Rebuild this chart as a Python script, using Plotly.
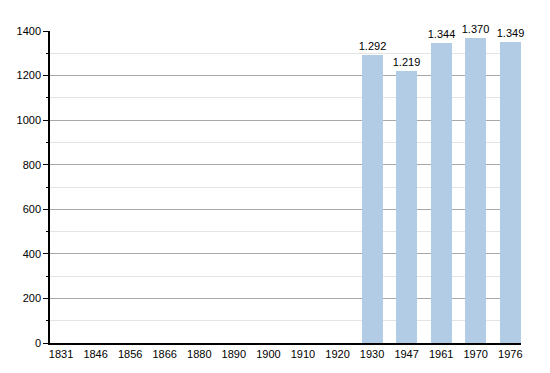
import plotly.graph_objects as go

years = ["1831", "1846", "1856", "1866", "1880", "1890", "1900", "1910", "1920",
         "1930", "1947", "1961", "1970", "1976"]
population = [None, None, None, None, None, None, None, None, None,
              1292, 1219, 1344, 1370, 1349]

labels = ["" if v is None else f"{v:,}".replace(",", ".") for v in population]

fig = go.Figure(go.Bar(
    x=list(range(len(years))),
    y=population,
    text=labels,
    textposition="outside",
    constraintext="none",
    textfont=dict(color="black", size=11),
    cliponaxis=False,
    marker=dict(color="#b3cce6", line=dict(width=0)),
    width=0.61,
))

fig.update_layout(
    width=550, height=373,
    margin=dict(l=50, r=29, t=31, b=30),
    paper_bgcolor="white", plot_bgcolor="white",
    font=dict(family="Liberation Sans, Arial, sans-serif", size=11, color="black"),
    showlegend=False,
    bargap=0,
    uniformtext=dict(minsize=11, mode="show"),
)
fig.update_xaxes(
    tickmode="array",
    tickvals=list(range(len(years))),
    ticktext=years,
    range=[-0.32, 13.31],
    showline=True, linecolor="black", linewidth=1.5,
    ticks="", showgrid=False, zeroline=False,
    tickfont=dict(size=11, color="black"),
)
fig.update_yaxes(
    range=[0, 1400],
    tickmode="linear", tick0=0, dtick=200,
    showline=True, linecolor="black", linewidth=1.5,
    ticks="outside", ticklen=5, tickcolor="black", tickwidth=1,
    showgrid=True, gridcolor="#a8a8a8", gridwidth=1,
    zeroline=False,
    minor=dict(dtick=100, showgrid=True, gridcolor="#e4e4e4", gridwidth=1,
               ticks="outside", ticklen=2, tickcolor="black"),
    tickfont=dict(size=11, color="black"),
)

fig.write_html("out.html")
